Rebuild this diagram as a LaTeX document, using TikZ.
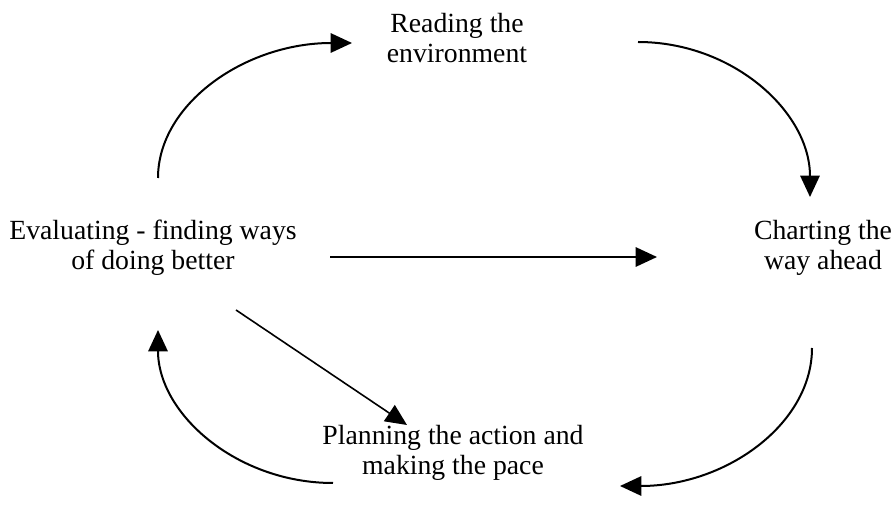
\documentclass[tikz,border=0pt]{standalone}
\usepackage{fontspec}
\setmainfont{Liberation Serif}
\usetikzlibrary{arrows.meta,positioning}

\begin{document}
\begin{tikzpicture}[x=0.75pt,y=-0.75pt,
  stagenode/.style={font=\fontsize{20.8}{22.5}\selectfont, align=center, inner sep=0pt},
  flow/.style={line width=1.5pt, -{Triangle[length=16pt,width=14.5pt]}}]
\useasboundingbox (0,0) rectangle (894,513);
% Stages
\node[stagenode] (read) at (457,38) {Reading the\\environment};
\node[stagenode] (chart) at (823,248) {Charting the\\way ahead};
\node[stagenode] (eval) at (153,248) {Evaluating - finding ways\\of doing better};
\node[stagenode] (plan) at (453,453) {Planning the action and\\making the pace};
% Cycle
\draw[flow] ([shift={(5,-70)}]eval.center) .. controls +(0,-74) and +(-107,0) .. ([shift={(-105,5)}]read.center);
\draw[flow] ([shift={(181,4)}]read.center) .. controls +(95,0) and +(0,-85) .. ([shift={(-13,-51)}]chart.center);
\draw[flow] ([shift={(-11,100)}]chart.center) .. controls +(0,76) and +(106,0) .. ([shift={(167,33)}]plan.center);
\draw[flow] ([shift={(-120,30)}]plan.center) .. controls +(-96,0) and +(0,84) .. ([shift={(5,82)}]eval.center);
% Straight links
\draw[flow] ([shift={(177,9)}]eval.center) -- ([shift={(-166,9)}]chart.center);
\draw[flow, line width=1.2pt] ([shift={(83,62)}]eval.center) -- ([shift={(-46,-28)}]plan.center);
\end{tikzpicture}
\end{document}
